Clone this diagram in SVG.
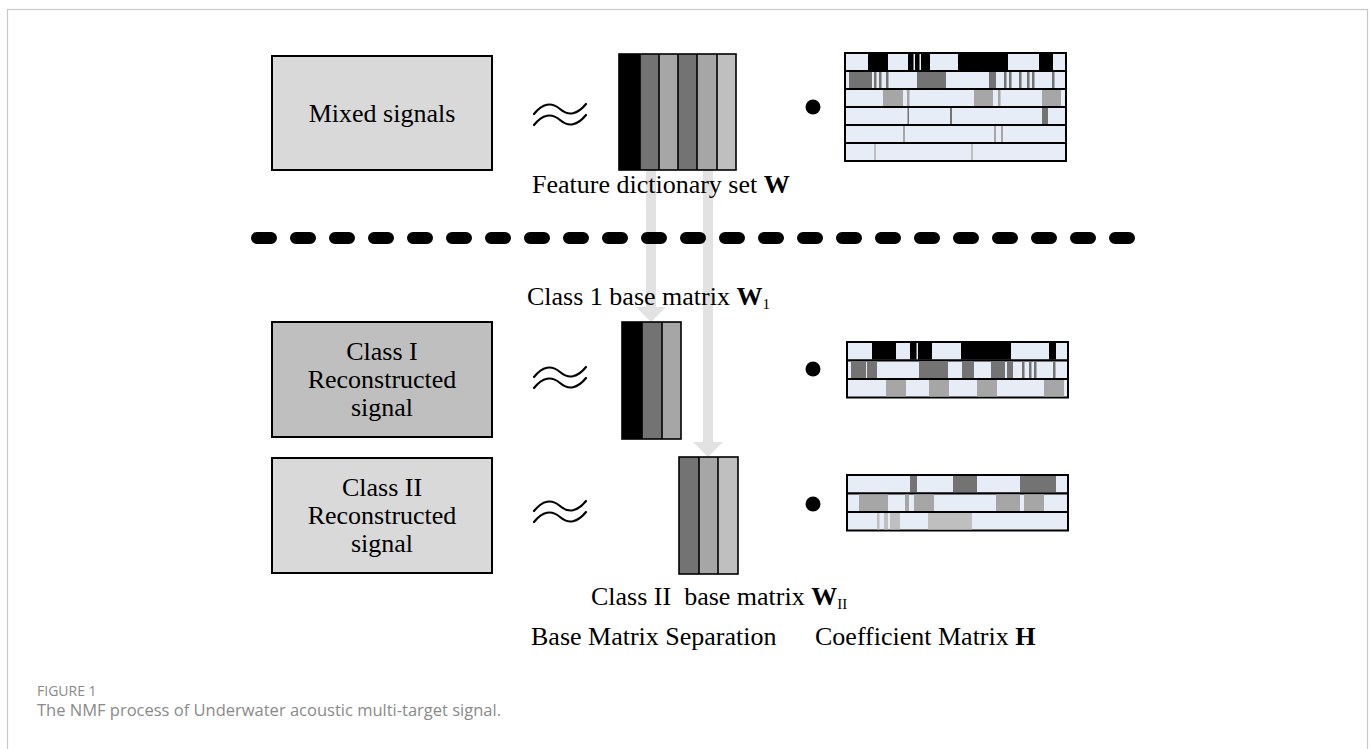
<svg xmlns="http://www.w3.org/2000/svg" width="1370" height="749" viewBox="0 0 1370 749">
<style>
.t{font-family:"Liberation Serif","Times New Roman",serif;font-size:26px;fill:#000;white-space:pre}
.b{font-weight:bold}
.box{stroke:#000;stroke-width:2}
.col{stroke:#000;stroke-width:1.6}
.row{fill:#e6edf7;stroke:#000;stroke-width:2}
.k{fill:#000}.d{fill:#737373}.m{fill:#a6a6a6}.l{fill:#bfbfbf}.w{fill:#e6edf7}
.approx{fill:none;stroke:#000;stroke-width:2.2;stroke-linecap:round}
.arrow{fill:#e2e2e2}
.cap{font-family:"Open Sans","Liberation Sans",sans-serif;fill:#8a8a8a}
</style>
<rect id="frame" x="7.5" y="9.5" width="1360" height="800" fill="#fff" stroke="#c8c8c8" stroke-width="1.2"/>

<g id="connectors">
  <g id="arrow-class1">
    <rect class="arrow" x="646" y="170" width="10" height="138"/>
    <polygon class="arrow" points="636,307 666,307 651,322"/>
  </g>
  <g id="arrow-class2">
    <rect class="arrow" x="703" y="170" width="10" height="273"/>
    <polygon class="arrow" points="693,442 723,442 708,457"/>
  </g>
</g>

<g id="separator">
  <line x1="257" y1="238" x2="1130" y2="238" stroke="#000" stroke-width="12" stroke-linecap="round" stroke-dasharray="14 25"/>
</g>

<g id="node-mixed">
  <rect class="box" x="272" y="56" width="220" height="114" fill="#d9d9d9"/>
  <text class="t" x="382" y="122" text-anchor="middle">Mixed signals</text>
</g>
<g id="approx-top"><path class="approx" d="M534,114 Q547,98 560,109 T586,104"/><path class="approx" d="M534,125 Q547,109 560,120 T586,115"/></g>
<g id="node-W">
  <rect class="k" x="619" y="54" width="21" height="116"/>
  <rect class="d" x="640" y="54" width="19" height="116"/>
  <rect class="m" x="659" y="54" width="19" height="116"/>
  <rect class="d" x="678" y="54" width="19" height="116"/>
  <rect class="m" x="697" y="54" width="20" height="116"/>
  <rect class="l" x="717" y="54" width="19" height="116"/>
  <g class="col" fill="none">
    <rect x="619" y="54" width="117" height="116"/>
    <line x1="640" y1="54" x2="640" y2="170"/><line x1="659" y1="54" x2="659" y2="170"/>
    <line x1="678" y1="54" x2="678" y2="170"/><line x1="697" y1="54" x2="697" y2="170"/>
    <line x1="717" y1="54" x2="717" y2="170"/>
  </g>
</g>
<circle id="dot-top" cx="813" cy="107" r="7.5"/>
<g id="node-H">
  <rect class="row" x="845" y="53" width="221" height="18"/>
  <rect class="k" x="868" y="54" width="20" height="16"/><rect class="k" x="908" y="54" width="22" height="16"/>
  <rect class="w" x="913.5" y="54" width="1.5" height="16"/><rect class="w" x="919.5" y="54" width="1.5" height="16"/>
  <rect class="k" x="958" y="54" width="50" height="16"/><rect class="k" x="1039" y="54" width="14" height="16"/>
  <rect class="row" x="845" y="71" width="221" height="18"/>
  <rect class="d" x="849" y="72" width="23" height="16"/><rect class="d" x="874" y="72" width="2.5" height="16"/>
  <rect class="d" x="879" y="72" width="2.5" height="16"/><rect class="d" x="886" y="72" width="2.5" height="16"/>
  <rect class="d" x="917" y="72" width="29" height="16"/><rect class="d" x="989" y="72" width="7" height="16"/>
  <rect class="d" x="1004" y="72" width="2.5" height="16"/><rect class="d" x="1009" y="72" width="2.5" height="16"/>
  <rect class="d" x="1019" y="72" width="2.5" height="16"/><rect class="d" x="1027" y="72" width="2.5" height="16"/>
  <rect class="d" x="1032" y="72" width="2.5" height="16"/><rect class="d" x="1052" y="72" width="2.5" height="16"/>
  <rect class="row" x="845" y="89" width="221" height="18"/>
  <rect class="m" x="883" y="90" width="20" height="16"/><rect class="m" x="907" y="90" width="2.5" height="16"/>
  <rect class="m" x="974" y="90" width="19" height="16"/><rect class="m" x="998" y="90" width="2.5" height="16"/>
  <rect class="m" x="1042" y="90" width="19" height="16"/>
  <rect class="row" x="845" y="107" width="221" height="18"/>
  <rect class="d" x="907.5" y="108" width="1.5" height="16"/><rect class="d" x="950" y="108" width="2" height="16"/>
  <rect class="d" x="1042" y="108" width="6" height="16"/>
  <rect class="row" x="845" y="125" width="221" height="18"/>
  <rect class="m" x="903" y="126" width="2" height="16"/><rect class="m" x="994" y="126" width="2" height="16"/>
  <rect class="m" x="1001" y="126" width="2" height="16"/>
  <rect class="row" x="845" y="143" width="221" height="18"/>
  <rect class="l" x="874" y="144" width="2" height="16"/><rect class="l" x="971" y="144" width="2" height="16"/>
</g>
<text id="label-W" class="t" x="532" y="193">Feature dictionary set <tspan class="b">W</tspan></text>

<text id="label-W1" class="t" x="527" y="305">Class 1 base matrix <tspan class="b">W</tspan><tspan font-size="15" dy="4">1</tspan></text>

<g id="node-class1">
  <rect class="box" x="272" y="322" width="220" height="115" fill="#bfbfbf"/>
  <text class="t" x="382" y="360" text-anchor="middle">Class I</text>
  <text class="t" x="382" y="388" text-anchor="middle">Reconstructed</text>
  <text class="t" x="382" y="416" text-anchor="middle">signal</text>
</g>
<g id="approx-1"><path class="approx" d="M534,377 Q547,361 560,372 T586,367"/><path class="approx" d="M534,388 Q547,372 560,383 T586,378"/></g>
<g id="node-W1">
  <rect class="k" x="622" y="322" width="20" height="117"/>
  <rect class="d" x="642" y="322" width="20" height="117"/>
  <rect class="m" x="662" y="322" width="19" height="117"/>
  <g class="col" fill="none">
    <rect x="622" y="322" width="59" height="117"/>
    <line x1="642" y1="322" x2="642" y2="439"/><line x1="662" y1="322" x2="662" y2="439"/>
  </g>
</g>
<circle id="dot-1" cx="813" cy="369" r="7.5"/>
<g id="node-H1">
  <rect class="row" x="847" y="342" width="221" height="18.5"/>
  <rect class="k" x="872" y="343" width="24" height="16.5"/><rect class="k" x="910" y="343" width="22" height="16.5"/>
  <rect class="w" x="916.5" y="343" width="1.5" height="16.5"/>
  <rect class="k" x="961" y="343" width="50" height="16.5"/><rect class="k" x="1049" y="343" width="7" height="16.5"/>
  <rect class="row" x="847" y="360.5" width="221" height="18.5"/>
  <rect class="d" x="851" y="361.5" width="15" height="16.5"/><rect class="d" x="867" y="361.5" width="10" height="16.5"/>
  <rect class="d" x="919" y="361.5" width="29" height="16.5"/><rect class="d" x="962" y="361.5" width="12" height="16.5"/>
  <rect class="d" x="991" y="361.5" width="14" height="16.5"/><rect class="d" x="1007" y="361.5" width="6" height="16.5"/>
  <rect class="d" x="1022" y="361.5" width="2.5" height="16.5"/><rect class="d" x="1029" y="361.5" width="2.5" height="16.5"/>
  <rect class="d" x="1034" y="361.5" width="2.5" height="16.5"/><rect class="d" x="1053" y="361.5" width="2.5" height="16.5"/>
  <rect class="row" x="847" y="379" width="221" height="18.5"/>
  <rect class="m" x="886" y="380" width="20" height="16.5"/><rect class="m" x="929" y="380" width="20" height="16.5"/>
  <rect class="m" x="977" y="380" width="20" height="16.5"/><rect class="m" x="1044" y="380" width="20" height="16.5"/>
</g>

<g id="node-class2">
  <rect class="box" x="272" y="458" width="220" height="115" fill="#d9d9d9"/>
  <text class="t" x="382" y="496" text-anchor="middle">Class II</text>
  <text class="t" x="382" y="524" text-anchor="middle">Reconstructed</text>
  <text class="t" x="382" y="552" text-anchor="middle">signal</text>
</g>
<g id="approx-2"><path class="approx" d="M534,511 Q547,495 560,506 T586,501"/><path class="approx" d="M534,522 Q547,506 560,517 T586,512"/></g>
<g id="node-W2">
  <rect class="d" x="679" y="457" width="20" height="117"/>
  <rect class="m" x="699" y="457" width="19" height="117"/>
  <rect class="l" x="718" y="457" width="20" height="117"/>
  <g class="col" fill="none">
    <rect x="679" y="457" width="59" height="117"/>
    <line x1="699" y1="457" x2="699" y2="574"/><line x1="718" y1="457" x2="718" y2="574"/>
  </g>
</g>
<circle id="dot-2" cx="813" cy="504" r="7.5"/>
<g id="node-H2">
  <rect class="row" x="847" y="475" width="221" height="18.5"/>
  <rect class="d" x="910" y="476" width="7" height="16.5"/><rect class="d" x="953" y="476" width="24" height="16.5"/>
  <rect class="d" x="1020" y="476" width="36" height="16.5"/>
  <rect class="row" x="847" y="493.5" width="221" height="18.5"/>
  <rect class="m" x="859" y="494.5" width="29" height="16.5"/><rect class="m" x="905" y="494.5" width="4" height="16.5"/>
  <rect class="m" x="914" y="494.5" width="20" height="16.5"/><rect class="m" x="996" y="494.5" width="24" height="16.5"/>
  <rect class="m" x="1024" y="494.5" width="20" height="16.5"/>
  <rect class="row" x="847" y="512" width="221" height="18.5"/>
  <rect class="l" x="877" y="513" width="2.5" height="16.5"/><rect class="l" x="884" y="513" width="4" height="16.5"/>
  <rect class="l" x="890" y="513" width="10" height="16.5"/><rect class="l" x="928" y="513" width="44" height="16.5"/>
</g>
<text id="label-W2" class="t" x="591" y="605">Class II  base matrix <tspan class="b">W</tspan><tspan font-size="15" dy="4">II</tspan></text>

<text id="label-sep" class="t" x="531" y="645">Base Matrix Separation</text>
<text id="label-H" class="t" x="815" y="645">Coefficient Matrix <tspan class="b">H</tspan></text>

<g id="caption">
  <text class="cap" x="37" y="696" font-size="14">FIGURE 1</text>
  <text class="cap" x="37" y="716" font-size="16.5">The NMF process of Underwater acoustic multi-target signal.</text>
</g>
</svg>
